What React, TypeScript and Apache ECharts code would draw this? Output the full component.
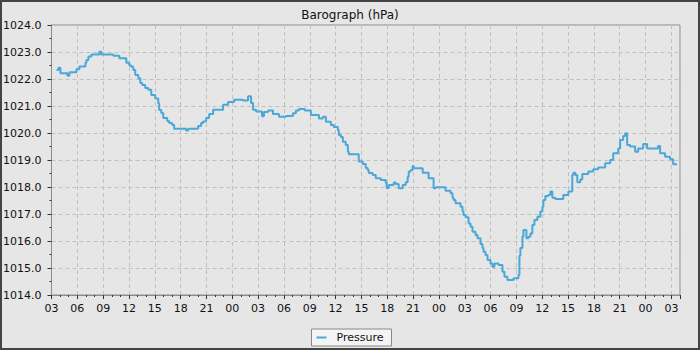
import React, { useEffect, useRef } from "react";
import * as echarts from "echarts";

// hours since 03:00 on day 1
const hours: number[] = [
  0.58, 0.81, 1.04, 1.51, 1.85, 2.09, 2.67, 2.9, 3.24, 3.71, 3.94, 4.06, 4.29, 4.64, 5.21, 5.56, 5.79, 6.37, 6.95, 7.18,
  7.76, 7.88, 8.34, 8.69, 9.04, 9.27, 9.5, 9.73, 10.08, 10.31, 10.54, 10.89, 11.24, 11.59, 12.05, 12.4, 12.51, 12.75, 12.98, 13.44,
  13.67, 14.02, 14.25, 14.83, 15.41, 15.64, 15.88, 16.45, 16.8, 17.03, 17.38, 17.61, 17.96, 18.31, 18.77, 19.24, 19.7, 19.93, 20.51, 21.21,
  21.79, 22.25, 22.6, 22.83, 23.18, 23.41, 23.76, 24.1, 24.45, 24.68, 25.15, 25.49, 25.73, 26.31, 26.42, 26.88, 27.23, 27.81, 28.04, 28.39,
  28.74, 29.2, 29.43, 29.9, 30.13, 30.71, 31.06, 31.52, 31.87, 32.21, 32.45, 32.79, 33.26, 33.37, 33.61, 33.84, 34.18, 34.42, 34.53, 35.11,
  35.58, 35.69, 36.15, 36.5, 36.73, 36.85, 37.31, 37.66, 38.01, 38.24, 38.59, 38.82, 38.93, 39.17, 39.63, 39.75, 39.98, 40.33, 40.56, 40.79,
  41.14, 41.37, 41.49, 41.72, 41.95, 42.07, 42.53, 42.88, 43.11, 43.69, 43.8, 44.27, 44.38, 44.61, 45.19, 45.42, 45.77, 46.12, 46.35, 46.58,
  46.7, 46.93, 47.28, 47.51, 47.74, 47.86, 48.09, 48.44, 48.67, 48.9, 49.25, 49.48, 49.83, 50.06, 50.18, 50.41, 50.64, 50.99, 51.22, 51.45,
  51.68, 51.92, 52.15, 52.38, 52.61, 52.96, 53.31, 53.54, 53.66, 54.12, 54.23, 54.35, 54.46, 54.7, 54.81, 55.04, 55.16, 55.39, 55.62, 55.85,
  56.09, 56.43, 56.78, 57.02, 57.13, 57.36, 57.71, 57.94, 58.17, 58.52, 59.1, 59.45, 59.91, 60.03, 60.26, 60.49, 60.61, 60.84, 61.07, 61.42,
  61.65, 62.23, 62.35, 62.81, 62.92, 63.39, 63.5, 64.08, 64.31, 64.66, 64.89, 65.24, 65.7, 65.82, 66.05, 66.4, 66.63, 66.86, 67.21, 67.56,
  67.79, 68.02, 68.14, 68.6, 68.72, 68.95, 69.18, 69.76, 70.34, 70.45, 70.69, 70.92, 71.27, 71.61, 71.85, 72.08, 72.2, 72.66,
];

const pressure: number[] = [
  1022.33, 1022.42, 1022.21, 1022.21, 1022.12, 1022.25, 1022.25, 1022.36, 1022.46, 1022.46, 1022.6, 1022.7, 1022.83, 1022.91, 1022.91, 1023.01, 1022.91, 1022.91, 1022.91, 1022.86,
  1022.86, 1022.77, 1022.77, 1022.6, 1022.5, 1022.45, 1022.33, 1022.15, 1022.03, 1021.85, 1021.78, 1021.67, 1021.6, 1021.41, 1021.28, 1021.1, 1020.85, 1020.74, 1020.56, 1020.44,
  1020.37, 1020.3, 1020.16, 1020.16, 1020.16, 1020.09, 1020.16, 1020.16, 1020.16, 1020.26, 1020.37, 1020.43, 1020.56, 1020.7, 1020.86, 1020.86, 1020.86, 1021.05, 1021.15, 1021.23,
  1021.23, 1021.2, 1021.2, 1021.36, 1021.11, 1020.86, 1020.8, 1020.8, 1020.62, 1020.78, 1020.83, 1020.83, 1020.7, 1020.7, 1020.6, 1020.6, 1020.63, 1020.63, 1020.73, 1020.83,
  1020.89, 1020.89, 1020.83, 1020.83, 1020.67, 1020.67, 1020.54, 1020.6, 1020.42, 1020.42, 1020.3, 1020.22, 1020.11, 1019.93, 1019.85, 1019.68, 1019.56, 1019.31, 1019.21, 1019.21,
  1019.21, 1018.94, 1018.85, 1018.7, 1018.63, 1018.52, 1018.44, 1018.32, 1018.32, 1018.26, 1018.26, 1018.15, 1017.96, 1018.07, 1018.07, 1018.17, 1018.11, 1017.95, 1017.95, 1018.07,
  1018.18, 1018.38, 1018.57, 1018.63, 1018.78, 1018.69, 1018.69, 1018.69, 1018.53, 1018.53, 1018.32, 1018.32, 1017.95, 1017.99, 1017.99, 1017.99, 1017.86, 1017.86, 1017.77, 1017.6,
  1017.52, 1017.4, 1017.4, 1017.27, 1017.09, 1016.96, 1016.88, 1016.65, 1016.53, 1016.34, 1016.22, 1016.1, 1015.89, 1015.74, 1015.6, 1015.48, 1015.3, 1015.17, 1015.05, 1015.17,
  1015.17, 1015.11, 1015.11, 1014.86, 1014.68, 1014.56, 1014.56, 1014.56, 1014.62, 1014.62, 1014.74, 1015.45, 1015.74, 1016.16, 1016.41, 1016.41, 1016.1, 1016.16, 1016.28, 1016.59,
  1016.78, 1016.9, 1017.09, 1017.27, 1017.52, 1017.67, 1017.7, 1017.83, 1017.6, 1017.56, 1017.56, 1017.7, 1017.7, 1017.83, 1017.83, 1018.44, 1018.53, 1018.44, 1018.18, 1018.28,
  1018.48, 1018.48, 1018.57, 1018.57, 1018.66, 1018.66, 1018.72, 1018.72, 1018.88, 1018.88, 1019.0, 1019.25, 1019.25, 1019.43, 1019.74, 1019.89, 1019.99, 1019.56, 1019.5, 1019.5,
  1019.31, 1019.31, 1019.43, 1019.43, 1019.59, 1019.59, 1019.43, 1019.43, 1019.43, 1019.52, 1019.25, 1019.25, 1019.12, 1019.12, 1019.03, 1019.03, 1018.84, 1018.84,
];

const startHour = 3;
const xMax = 73;
const yMin = 1014;
const yMax = 1024;
const title = "Barograph (hPa)";
const seriesName = "Pressure";

export default function App() {
  const ref = useRef<HTMLDivElement>(null);
  useEffect(() => {
    document.body.style.margin = "0";
    if (!ref.current) return;
    const chart = echarts.init(ref.current, null, { renderer: "svg" });
    const data = hours.map((h, i) => [h, pressure[i]]);
    const font = "DejaVu Sans";
    chart.setOption({
      animation: false,
      backgroundColor: "#e6e6e6",
      textStyle: { fontFamily: font },
      title: {
        text: title,
        left: "center",
        top: 4,
        textStyle: { fontFamily: font, fontSize: 12, fontWeight: "normal", color: "#111" },
      },
      graphic: [
        {
          type: "rect",
          shape: { x: 1, y: 1, width: 698, height: 348 },
          style: { fill: "none", stroke: "#444", lineWidth: 2 },
          silent: true,
        },
      ],
      legend: {
        top: 329,
        left: "center",
        data: [seriesName],
        backgroundColor: "#f4f4f4",
        borderColor: "#888",
        borderWidth: 1,
        borderRadius: 0,
        padding: [3, 8, 3, 5],
        itemWidth: 10,
        itemHeight: 2,
        icon: "rect",
        textStyle: { fontFamily: font, fontSize: 11, color: "#111", padding: [0, 0, 0, 5] },
      },
      grid: {
        left: 50,
        right: 20,
        top: 25,
        bottom: 55,
        show: true,
        backgroundColor: "#e6e6e6",
        borderColor: "#8c8c8c",
        borderWidth: 1,
      },
      xAxis: {
        type: "value",
        min: 0,
        max: xMax,
        interval: 3,
        axisLine: { show: true, lineStyle: { color: "#8c8c8c" } },
        axisTick: { show: true, length: 4, lineStyle: { color: "#333" } },
        minorTick: { show: true, splitNumber: 3, length: 2, lineStyle: { color: "#333" } },
        splitLine: { show: true, lineStyle: { color: "#c0c0c0", type: [4, 3], width: 1 } },
        axisLabel: {
          fontFamily: font,
          fontSize: 11,
          color: "#111",
          margin: 8,
          showMaxLabel: false,
          formatter: (v: number) => String((startHour + v) % 24).padStart(2, "0"),
        },
      },
      yAxis: {
        type: "value",
        min: yMin,
        max: yMax,
        interval: 1,
        axisLine: { show: true, lineStyle: { color: "#8c8c8c" } },
        axisTick: { show: true, length: 4, lineStyle: { color: "#333" } },
        minorTick: { show: true, splitNumber: 2, length: 2, lineStyle: { color: "#333" } },
        splitLine: { show: true, lineStyle: { color: "#c0c0c0", type: [4, 3], width: 1 } },
        axisLabel: {
          fontFamily: font,
          fontSize: 11,
          color: "#111",
          margin: 10,
          formatter: (v: number) => v.toFixed(1),
        },
      },
      series: [
        {
          name: seriesName,
          type: "line",
          step: "end",
          data,
          showSymbol: false,
          symbol: "none",
          lineStyle: { color: "#4aa8d8", width: 2 },
          itemStyle: { color: "#4aa8d8" },
        },
      ],
    });
    return () => chart.dispose();
  }, []);
  return <div ref={ref} style={{ width: 700, height: 350 }} />;
}
